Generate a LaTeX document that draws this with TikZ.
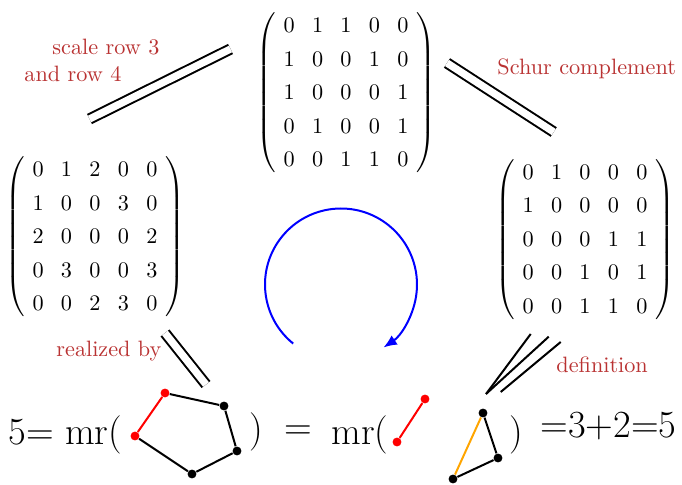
\documentclass[tikz,border=0pt]{standalone}
\usepackage{fontspec}
\usepackage{amsmath}
\usetikzlibrary{arrows.meta}
\definecolor{MrRed}{RGB}{185,50,50}
\definecolor{MrOrange}{RGB}{255,165,0}
\setlength{\arraycolsep}{3.9pt}
\renewcommand{\arraystretch}{1.26}
\newcommand{\mrmat}[1]{$\left(\hspace{3.5pt}\begin{matrix}#1\end{matrix}\hspace{3.5pt}\right)$}
\tikzset{
  mr/mat/.style={inner sep=0pt},
  mr/label/.style={
    text=MrRed,
    font=\fontsize{10}{12}\selectfont,
    anchor=base west,
    inner sep=0pt
  },
  mr/big/.style={
    font=\fontsize{17.28}{21}\selectfont,
    anchor=base west,
    inner sep=0pt
  },
  mr/vx/.style={circle, fill=black, inner sep=0pt, minimum size=4pt},
  mr/redvx/.style={mr/vx, fill=red},
  mr/edge/.style={line width=0.9pt, draw=black},
  mr/rededge/.style={mr/edge, draw=red},
  mr/oredge/.style={mr/edge, draw=MrOrange},
  mr/equiv/.style={double, double distance=3.3pt, line width=0.9pt},
  mr/loop/.style={-{Latex[length=6pt,width=5pt]}, line width=0.9pt, draw=blue}
}

\begin{document}
\begin{tikzpicture}[x=0.45pt,y=-0.45pt]
  \useasboundingbox (0,0) rectangle (682,485);
  % matrices
  \node[mr/mat] (top) at (346,93) {\mrmat{
    0&1&1&0&0\\ 1&0&0&1&0\\ 1&0&0&0&1\\ 0&1&0&0&1\\ 0&0&1&1&0}};
  \node[mr/mat] (left) at (95,237) {\mrmat{
    0&1&2&0&0\\ 1&0&0&3&0\\ 2&0&0&0&2\\ 0&3&0&0&3\\ 0&0&2&3&0}};
  \node[mr/mat] (right) at (585,239.5) {\mrmat{
    0&1&0&0&0\\ 1&0&0&0&0\\ 0&0&0&1&1\\ 0&0&1&0&1\\ 0&0&1&1&0}};

  % labels
  \node[mr/label] (scale) at (52,55) {scale row 3};
  \node[mr/label] (rows) at (24,82) {and row 4};
  \node[mr/label] (schur) at (497,75) {Schur complement};
  \node[mr/label] (real) at (56,357) {realized by};
  \node[mr/label] (defn) at (556,372) {definition};

  % equivalences
  \coordinate (s1) at (89.5,119);
  \coordinate (s2) at (230.5,49);
  \coordinate (c1) at (447,63);
  \coordinate (c2) at (553.7,132);
  \coordinate (r1) at (165,333);
  \coordinate (r2) at (206,384.5);
  \coordinate (d0) at (486,394);
  \coordinate (d1) at (530.7,334);
  \coordinate (d2) at (548.7,336.7);
  \coordinate (d3) at (560.7,342);
  \coordinate (d4) at (500.7,392);
  \draw[mr/equiv] (s1) -- (s2);
  \draw[mr/equiv] (c1) -- (c2);
  \draw[mr/equiv] (r1) -- (r2);
  \draw[mr/edge] (d1) -- (d0);
  \draw[mr/edge] (d2) -- (d0);
  \draw[mr/edge] (d3) -- (d4);

  % loop
  \coordinate (c) at (341,284.5);
  \draw[mr/loop] (c) ++(-231:76) arc[start angle=-231, end angle=56, radius=76];

  % bottom line
  \node[mr/big] (lhs) at (8,444) {5= mr(};
  \node[mr/redvx] (p1) at (165,393) {};
  \node[mr/vx] (p2) at (224,406) {};
  \node[mr/vx] (p3) at (237,451) {};
  \node[mr/vx] (p4) at (192,474) {};
  \node[mr/redvx] (p5) at (135,436) {};
  \draw[mr/rededge] (p5) -- (p1);
  \draw[mr/edge] (p1) -- (p2) -- (p3) -- (p4) -- (p5);
  \node[mr/big] (rp1) at (249,441) {)};
  \node[mr/big, anchor=base] (eq) at (298,440) {=};
  \node[mr/big] (mr2) at (331,444) {mr(};
  \node[mr/redvx] (q1) at (397,442) {};
  \node[mr/redvx] (q2) at (425,399) {};
  \draw[mr/rededge] (q1) -- (q2);
  \node[mr/vx] (t1) at (483,413) {};
  \node[mr/vx] (t2) at (498,458) {};
  \node[mr/vx] (t3) at (453,479) {};
  \draw[mr/oredge] (t1) -- (t3);
  \draw[mr/edge] (t1) -- (t2) -- (t3);
  \node[mr/big] (rp2) at (509,444) {)};
  \node[mr/big] (rhs) at (540,437) {=3+2=5};
\end{tikzpicture}
\end{document}
